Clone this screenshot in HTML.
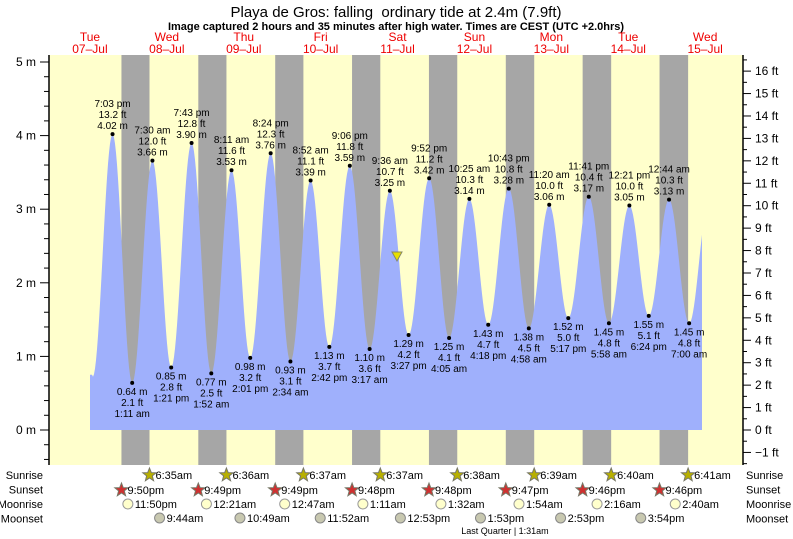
<!DOCTYPE html>
<html><head><meta charset="utf-8"><style>
body{margin:0;background:#fff;}
svg{display:block;font-family:"Liberation Sans",sans-serif;}
</style></head><body>
<svg id="s" width="793" height="539" xmlns="http://www.w3.org/2000/svg"></svg>
<script>
const X0=51.5, PH=76.9/24;
const xt=(d,h,m)=>X0+((d-7)*24+h+m/60)*PH;
const ym=v=>430-v*73.6;
let o='';
o+='<rect x="49" y="55" width="694" height="410" fill="#ffffcc"/>';
// night bands
const ss=[[7,21,50],[8,21,49],[9,21,49],[10,21,48],[11,21,48],[12,21,47],[13,21,46],[14,21,46]];
const sr=[[8,6,35],[9,6,36],[10,6,37],[11,6,37],[12,6,38],[13,6,39],[14,6,40],[15,6,41]];
for(let i=0;i<8;i++){const a=xt(...ss[i]),b=xt(...sr[i]);o+=`<rect x="${a}" y="55" width="${b-a}" height="410" fill="#a6a6a6"/>`;}
// tide extrema
const H=[[7,19,3,4.02],[8,7,30,3.66],[8,19,43,3.90],[9,8,11,3.53],[9,20,24,3.76],[10,8,52,3.39],[10,21,6,3.59],[11,9,36,3.25],[11,21,52,3.42],[12,10,25,3.14],[12,22,43,3.28],[13,11,20,3.06],[13,23,41,3.17],[14,12,21,3.05],[15,0,44,3.13]];
const L=[[8,1,11,0.64],[8,13,21,0.85],[9,1,52,0.77],[9,14,1,0.98],[10,2,34,0.93],[10,14,42,1.13],[11,3,17,1.10],[11,15,27,1.29],[12,4,5,1.25],[12,16,18,1.43],[13,4,58,1.38],[13,17,17,1.52],[14,5,58,1.45],[14,18,24,1.55],[15,7,0,1.45]];
let ex=[[7,12,50,0.72]];
for(let i=0;i<15;i++){ex.push(H[i]);ex.push(L[i]);}
ex.push([15,13,10,3.1]);
const pts=ex.map(e=>[xt(e[0],e[1],e[2]),e[3]]);
const xs=90,xe=702;
let p=`M${xs},430`;
for(let x=xs;x<=xe;x+=1){
 let v;for(let i=0;i<pts.length-1;i++){if(x>=pts[i][0]&&x<=pts[i+1][0]){const f=(x-pts[i][0])/(pts[i+1][0]-pts[i][0]);v=pts[i][1]+(pts[i+1][1]-pts[i][1])*(1-Math.cos(Math.PI*f))/2;break;}}
 if(v===undefined)v=0.75;
 p+=`L${x},${ym(v).toFixed(1)}`;
}
p+=`L${xe},430Z`;
o+=`<path d="${p}" fill="#9fb0fc"/>`;
const fmt=(h,m)=>{const ap=h<12?'am':'pm';let hh=h%12;if(hh==0)hh=12;return hh+':'+String(m).padStart(2,'0')+' '+ap;};
const T=(x,y,s,extra='')=>`<text x="${x}" y="${y}" ${extra}>${s}</text>`;
o+='<g font-size="10" text-anchor="middle" fill="#000">';
H.forEach(e=>{const x=xt(e[0],e[1],e[2]),y=ym(e[3]);o+=`<circle cx="${x}" cy="${y}" r="2"/>`;o+=T(x,y-27,fmt(e[1],e[2]))+T(x,y-16,(e[3]*3.2808).toFixed(1)+' ft')+T(x,y-5,e[3].toFixed(2)+' m');});
L.forEach(e=>{const x=xt(e[0],e[1],e[2]),y=ym(e[3]);o+=`<circle cx="${x}" cy="${y}" r="2"/>`;o+=T(x,y+12,e[3].toFixed(2)+' m')+T(x,y+23,(e[3]*3.2808).toFixed(1)+' ft')+T(x,y+34,fmt(e[1],e[2]));});
o+='</g>';
// axes
o+='<line x1="49" y1="55" x2="49" y2="465" stroke="#000" stroke-width="1.5"/><line x1="743" y1="55" x2="743" y2="465" stroke="#000" stroke-width="1.5"/>';
o+='<g font-size="12" text-anchor="end">';
for(let v=-0.4;v<=5.21;v+=0.2){const y=ym(v);if(y<55||y>465)continue;const maj=Math.abs(v-Math.round(v))<0.01;o+=`<line x1="${maj?40:44}" y1="${y}" x2="49" y2="${y}" stroke="#000"/>`;if(maj)o+=T(36,y+4,Math.round(v)+' m');}
o+='</g><g font-size="12" text-anchor="start">';
for(let f=-1.5;f<=16.6;f+=0.5){const y=430-f*22.43;if(y<55||y>465)continue;const maj=Math.abs(f-Math.round(f))<0.01;o+=`<line x1="743" y1="${y}" x2="${maj?751:747}" y2="${y}" stroke="#000"/>`;if(maj)o+=T(755,y+4,(Math.round(f)<0?'\u22121':Math.round(f))+' ft');}
o+='</g>';
// day labels
const dn=['Tue','Wed','Thu','Fri','Sat','Sun','Mon','Tue','Wed'];
o+='<g font-size="12" fill="#e00" text-anchor="middle">';
for(let i=0;i<9;i++){const x=xt(7+i,12,0);o+=T(x,41,dn[i])+T(x,53,String(7+i).padStart(2,'0')+'\u2013Jul');}
o+='</g>';
// title
o+=T(396,17,'Playa de Gros: falling&#160; ordinary tide at 2.4m (7.9ft)','font-size="15" text-anchor="middle"');
o+=T(396,30,'Image captured 2 hours and 35 minutes after high water. Times are CEST (UTC +2.0hrs)','font-size="11" font-weight="bold" text-anchor="middle"');
// current marker
o+='<polygon points="392,252 402,252 397,261" fill="#e8e000" stroke="#886"/>';
// rows
const star=(x,y,c)=>{let s='';for(let k=0;k<10;k++){const r=k%2?3:7,a=-Math.PI/2+k*Math.PI/5;s+=(x+r*Math.cos(a)).toFixed(1)+','+(y+r*Math.sin(a)).toFixed(1)+' ';}return `<polygon points="${s}" fill="${c}" stroke="#776"/>`;};
o+='<g font-size="11">';
['Sunrise','Sunset','Moonrise','Moonset'].forEach((n,i)=>{const y=479+i*14.5;o+=T(43,y,n,'text-anchor="end"')+T(746,y,n);});
const sh=(h,m)=>{const ap=h<12?'am':'pm';let hh=h%12;if(hh==0)hh=12;return hh+':'+String(m).padStart(2,'0')+ap;};
sr.forEach(e=>{const x=xt(...e);o+=star(x,475,'#b8b000')+T(x+6,479,sh(e[1],e[2]));});
ss.forEach(e=>{const x=xt(...e);o+=star(x,490,'#d03030')+T(x+6,494,sh(e[1],e[2]));});
const mr=[[7,23,50],[9,0,21],[10,0,47],[11,1,11],[12,1,32],[13,1,54],[14,2,16],[15,2,40]];
mr.forEach(e=>{const x=xt(...e);o+=`<circle cx="${x}" cy="504" r="5" fill="#ffffcc" stroke="#999"/>`+T(x+7,508,sh(e[1],e[2]));});
const ms=[[8,9,44],[9,10,49],[10,11,52],[11,12,53],[12,13,53],[13,14,53],[14,15,54]];
ms.forEach(e=>{const x=xt(...e);o+=`<circle cx="${x}" cy="518" r="5" fill="#c8c8b0" stroke="#888"/>`+T(x+7,522,sh(e[1],e[2]));});
o+='</g>';
o+=T(505,534,'Last Quarter | 1:31am','font-size="9" text-anchor="middle"');
document.getElementById('s').innerHTML=o;
</script>
</body></html>
